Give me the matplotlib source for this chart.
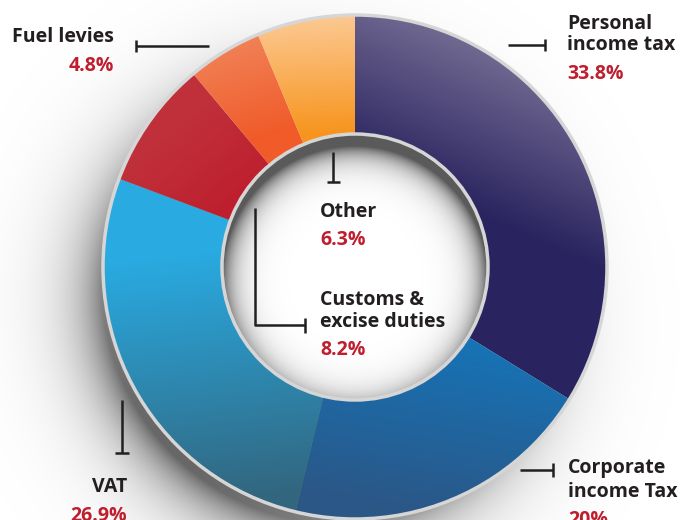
import numpy as np
import matplotlib.pyplot as plt
from matplotlib.patches import Circle
from matplotlib.colors import to_rgb

plt.rcParams['font.family'] = ['Open Sans', 'DejaVu Sans']

# data (clockwise from 12 o'clock)
labels = ['Personal\nincome tax', 'Corporate\nincome Tax', 'VAT',
          'Customs &\nexcise duties', 'Fuel levies', 'Other']
shares = [33.8, 20, 26.9, 8.2, 4.8, 6.3]

# gradient per slice: start point, end point (pixels, y down), start colour, end colour
grads = [
    ((565, 25), (480, 215), '#8a82a3', '#29235f'),
    ((470, 330), (440, 515), '#1575b9', '#2b5787'),
    ((200, 250), (230, 500), '#29abe2', '#32667f'),
    ((165, 140), (225, 215), '#c0303a', '#be1e2d'),
    ((225, 35), (255, 140), '#f0855a', '#f15a29'),
    ((300, 20), (305, 135), '#fcc890', '#f7941d'),
]

W, H = 682, 520
cx, cy = 355, 267          # ring centre in pixels (y down)
R, r_in = 252, 133
dark = '#231f20'
red = '#be1e2d'

fig = plt.figure(figsize=(6.82, 5.2), dpi=100)
ax = fig.add_axes([0, 0, 1, 1])

yy, xx = np.mgrid[0:H, 0:W] + 0.5
py = H - yy  # pixel y (down) for each image row when origin='lower'
ext = (0, W, 0, H)


def ramp(p0, p1, c0, c1):
    d = np.array(p1, float) - p0
    t = ((xx - p0[0]) * d[0] + (py - p0[1]) * d[1]) / (d @ d)
    t = np.clip(t, 0, 1)[..., None]
    return np.array(to_rgb(c0)) * (1 - t) + np.array(to_rgb(c1)) * t


# drop shadow under the ring, mostly towards the lower left
dx, dy = xx - cx, py - cy
d = np.hypot(dx - (-10), dy - 14)
dot = (-dx + dy) / (np.hypot(dx, dy) + 1e-9) / np.sqrt(2)
wgt = 0.08 + 0.92 * ((1 + dot) / 2) ** 2
a = 0.6 * wgt * np.exp(-np.clip(d - (R - 8), 0, None) / 32)
sh = np.zeros((H, W, 4))
sh[..., 3] = a
ax.imshow(sh, extent=ext, origin='lower', aspect='auto', zorder=1)

wedges, _ = ax.pie(shares, startangle=90, counterclock=False,
                   center=(cx, H - cy), radius=R,
                   wedgeprops=dict(width=R - r_in, linewidth=0))
for w, (p0, p1, c0, c1) in zip(wedges, grads):
    w.set_facecolor('none')
    w.set_zorder(3)
    im = ax.imshow(ramp(p0, p1, c0, c1), extent=ext, origin='lower',
                   aspect='auto', zorder=2)
    im.set_clip_path(w)

# hole with inner shadow
hole = Circle((cx, H - cy), r_in, fc='white', ec='none', zorder=2)
ax.add_patch(hole)
d2 = np.hypot(xx - cx, py - (cy + 12))
a2 = 0.65 * np.exp(-np.clip(r_in - d2, 0, None) / 13)
ish = np.zeros((H, W, 4))
ish[..., 3] = a2
im = ax.imshow(ish, extent=ext, origin='lower', aspect='auto', zorder=2.5)
im.set_clip_path(hole)

for rad in (R, r_in):
    ax.add_patch(Circle((cx, H - cy), rad, fill=False, ec='#d6d6d6',
                        lw=2.5, zorder=4))


def line(xs, ys):
    ax.plot(xs, [H - v for v in ys], color=dark, lw=1.8,
            solid_capstyle='butt', zorder=5)


def txt(x, y, s, color=dark, ha='left'):
    ax.text(x, H - y, s, color=color, ha=ha, va='baseline',
            fontsize=14, fontweight='bold', zorder=6)


pct = [f'{v:g}%' for v in shares]

# Personal income tax
l0 = labels[0].split('\n')
txt(567, 29, l0[0]); txt(567, 50, l0[1]); txt(567, 79, pct[0], red)
line([508, 545], [45, 45]); line([545, 545], [39, 51])
# Corporate income tax
l1 = labels[1].split('\n')
txt(568, 473, l1[0]); txt(568, 497, l1[1]); txt(568, 525, pct[1], red)
line([520, 553], [470, 470]); line([553, 553], [463, 477])
# VAT
txt(127, 492, labels[2], ha='right'); txt(127, 521, pct[2], red, ha='right')
line([122, 122], [400, 453]); line([115, 129], [453, 453])
# Customs & excise duties
l3 = labels[3].split('\n')
txt(320, 305, l3[0]); txt(320, 327, l3[1]); txt(320, 355, pct[3], red)
line([255, 255, 305], [208, 325, 325]); line([305, 305], [318, 333])
# Fuel levies
txt(114, 42, labels[4], ha='right'); txt(114, 71, pct[4], red, ha='right')
line([136, 209], [46, 46]); line([136, 136], [40, 52])
# Other
txt(320, 217, labels[5]); txt(320, 245, pct[5], red)
line([333, 333], [152, 182]); line([327, 340], [182, 182])

ax.set_xlim(0, W)
ax.set_ylim(0, H)
ax.set_aspect('auto')
ax.axis('off')
fig.savefig('out.png', dpi=100)
